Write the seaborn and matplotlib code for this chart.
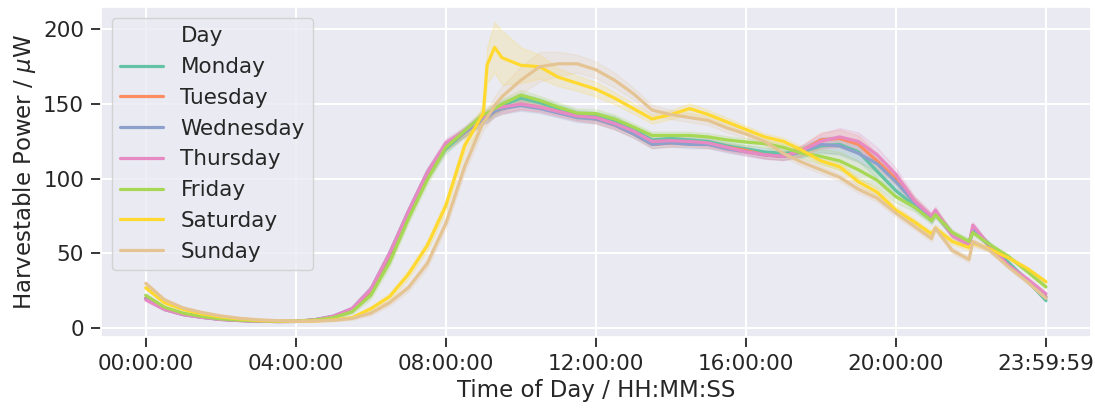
import matplotlib
matplotlib.use("Agg")
import matplotlib.pyplot as plt
import numpy as np
import pandas as pd
import seaborn as sns

# time of day in hours
hours = [0, 0.5, 1, 1.5, 2, 2.5, 3, 3.5, 4, 4.5, 5, 5.5, 6, 6.5, 7, 7.5, 8, 8.5, 9, 9.1, 9.3,
         9.5, 10, 10.5, 11, 11.5, 12, 12.5, 13, 13.5, 14, 14.5, 15, 15.5, 16, 16.5, 17, 17.5,
         18, 18.5, 19, 19.5, 20, 20.5, 20.95, 21.05, 21.5, 21.95, 22.05, 22.5, 23, 23.5, 24]

days = ["Monday", "Tuesday", "Wednesday", "Thursday", "Friday", "Saturday", "Sunday"]

# mean harvestable power (uW) per day
monday = [20, 13, 9.5, 7.5, 6, 5.3, 4.8, 4.5, 4.5, 5.5, 7.5, 12, 24, 48, 76, 102, 120, 131, 141, 142,
          146, 149, 154, 151, 147, 143, 142, 139, 133, 126, 127, 126, 125, 122, 120, 118, 117, 118,
          122, 123, 118, 105, 92, 82, 73, 77, 63, 57, 66, 56, 44, 32, 18.5]
tuesday = [20, 13, 9.5, 7.3, 6, 5.2, 4.7, 4.5, 4.5, 5.5, 7.5, 12, 25, 49, 77, 103, 122, 131, 140, 141,
           145, 147, 150, 148, 145, 142, 140, 136, 130, 123, 124, 124, 123, 121, 119, 116, 115, 119,
           126, 127, 123, 112, 100, 85, 74, 78, 63, 56, 67, 55, 42, 32, 21]
wednesday = [19.5, 12.5, 9, 7.2, 5.8, 5.1, 4.7, 4.4, 4.5, 5.6, 8, 13, 26, 50, 78, 104, 123, 131, 140, 141,
             145, 147, 149, 147, 144, 141, 140, 136, 130, 123, 124, 123, 123, 120, 118, 116, 115, 118,
             123, 122, 117, 110, 98, 84, 73, 77, 63, 56, 66, 55, 42, 32, 20.5]
thursday = [19, 12.5, 9, 7.2, 5.8, 5.1, 4.7, 4.4, 4.5, 5.6, 8, 13, 26, 50, 78, 104, 124, 132, 142, 143,
            147, 148, 150, 148, 145, 142, 141, 137, 132, 125, 125.5, 125, 124, 121, 118, 116, 115, 119,
            125, 128, 125, 116, 103, 85, 75, 79, 62, 56, 69, 55, 42, 33, 23]
friday = [22, 14, 10, 7.8, 6.2, 5.4, 4.9, 4.6, 4.6, 5.4, 7, 11, 22, 44, 73, 99, 121, 132, 143, 144,
          147, 150, 156, 152.5, 148, 144, 143.6, 140, 134.7, 129, 129, 129, 128, 126, 124.6, 123.5, 121, 117,
          115, 112, 106, 99, 88, 81, 72, 76, 64, 58, 64, 56, 48, 38, 27.6]
saturday = [27, 17, 12.5, 9.5, 7.5, 6.2, 5.2, 4.8, 4.5, 4.8, 5.5, 7, 13, 21, 36, 55, 82, 122, 144, 176,
            188, 181, 176, 175, 168, 164, 160, 154, 147, 140, 143, 147, 143, 138, 133, 128, 125, 119,
            112, 108, 98, 91, 79, 71, 63, 67, 58, 54, 57, 53, 47, 40, 31]
sunday = [30, 19, 13.5, 10.5, 8.2, 6.6, 5.6, 5, 4.6, 4.8, 5.2, 6.5, 10, 17, 27, 43, 70, 108, 138, 141,
          149, 155, 166, 175, 177, 177, 173, 166, 157, 146, 143, 141, 139, 134, 130, 125, 117, 111,
          106, 101, 93, 87, 77, 68, 60, 67, 52, 46, 58, 52, 41, 31, 20]

# half width of the shaded band
band_weekday = [1, 0.6, 0.4, 0.3, 0.3, 0.3, 0.3, 0.3, 0.3, 0.5, 1, 1.5, 2.5, 3, 3, 3, 3, 3, 3.5, 3.5,
                3.5, 3.5, 3.5, 3, 3, 3, 3, 3, 2.5, 2.5, 2.5, 2.5, 2.5, 2.5, 2.5, 2.5, 2.5, 3.5, 5, 6,
                6, 5, 4, 3, 2.5, 2.5, 2, 2, 2, 1.5, 1.2, 1.2, 1]
band_saturday = [1.2, 1, 0.6, 0.5, 0.4, 0.3, 0.3, 0.3, 0.3, 0.6, 0.6, 1, 1.5, 2.5, 3, 3.5, 4, 5, 6, 12,
                 17, 18, 12, 8, 6, 5, 5, 4, 3.5, 3, 3, 3.5, 3, 3, 2.5, 2.5, 2.5, 2.5, 2.5, 2.5, 2.5, 2.5,
                 2.5, 2, 2, 2, 2, 2, 2, 1.5, 1.2, 1.2, 1.2]
band_sunday = [1.2, 1, 0.6, 0.5, 0.4, 0.3, 0.3, 0.3, 0.3, 0.5, 0.6, 1, 1.5, 2, 2.5, 3, 3.5, 4, 5, 5.5,
               6, 7, 9, 10, 8, 6, 5.5, 5, 4, 3.5, 3, 3, 3, 3, 2.5, 2.5, 2.5, 2.5, 2.5, 2.5, 2.5, 2.5,
               2.5, 2, 2, 2, 2, 2, 2, 1.5, 1.2, 1.2, 1.2]

tick_hours = [0, 4, 8, 12, 16, 20, 24]
tick_labels = ["00:00:00", "04:00:00", "08:00:00", "12:00:00", "16:00:00", "20:00:00", "23:59:59"]

series = [monday, tuesday, wednesday, thursday, friday, saturday, sunday]
bands = [band_weekday] * 5 + [band_saturday, band_sunday]

rows = []
for day, vals, band in zip(days, series, bands):
    for t, v, b in zip(hours, vals, band):
        for y in (v - b, v, v + b):
            rows.append((t, day, y))
df = pd.DataFrame(rows, columns=["hour", "Day", "power"])

sns.set_theme(style="darkgrid", palette="Set2")
plt.rcParams.update({
    "xtick.bottom": True, "ytick.left": True,
    "xtick.major.size": 7, "ytick.major.size": 7,
    "xtick.major.width": 1.3, "ytick.major.width": 1.3,
    "xtick.major.pad": 5, "ytick.major.pad": 5,
    "xtick.color": ".15", "ytick.color": ".15",
    "xtick.labelsize": 15.5, "ytick.labelsize": 15.5,
    "axes.labelsize": 16.5,
    "legend.fontsize": 15.5,
    "grid.linewidth": 1.5,
})

fig, ax = plt.subplots(figsize=(10.95, 4.08), dpi=100)
fig.subplots_adjust(left=0.092, right=0.9963, top=0.983, bottom=0.174)

sns.lineplot(data=df, x="hour", y="power", hue="Day", hue_order=days, palette="Set2",
             errorbar=("pi", 100), linewidth=2.3, err_kws={"alpha": 0.17}, ax=ax)

ax.set_xticks(tick_hours)
ax.set_xticklabels(tick_labels)
ax.set_yticks([0, 50, 100, 150, 200])
ax.set_xlabel("Time of Day / HH:MM:SS")
ax.set_ylabel(r"Harvestable Power / $\mu$W")

# old-style legend with "Day" as a first entry
leg = ax.get_legend()
handles = list(leg.legend_handles)
labels = [t.get_text() for t in leg.get_texts()]
blank = plt.Line2D([], [], color="none")
ax.legend([blank] + handles, ["Day"] + labels, loc="upper left")

fig.savefig("out.png", dpi=100)
